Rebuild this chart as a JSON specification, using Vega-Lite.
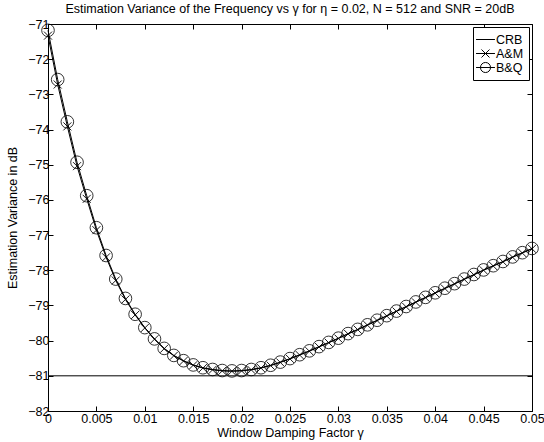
{
  "$schema": "https://vega.github.io/schema/vega-lite/v6.json",
  "autosize": "none",
  "width": 484,
  "height": 387,
  "padding": {"left": 48, "top": 24, "right": 12, "bottom": 31},
  "background": "white",
  "config": {
    "font": "Liberation Sans",
    "view": {"stroke": "black", "strokeWidth": 1},
    "axis": {
      "domainColor": "black", "tickColor": "black", "labelColor": "black", "titleColor": "black",
      "labelFont": "Liberation Sans", "titleFont": "Liberation Sans",
      "labelFontSize": 12.5, "titleFontSize": 12.5, "titleFontWeight": "normal",
      "tickSize": -5, "grid": false
    },
    "legend": {"labelFont": "Liberation Sans"}
  },
  "title": {"text": "Estimation Variance of the Frequency vs γ for η = 0.02, N = 512 and SNR = 20dB", "font": "Liberation Sans", "fontSize": 12.5, "fontWeight": "normal", "color": "black", "offset": 3},
  "datasets": {
    "curves": [
      {"series": "CRB", "x": 0, "v": -81},
      {"series": "CRB", "x": 0.05, "v": -81},
      {"series": "A&M", "x": 0.000, "v": -71.33},
      {"series": "A&M", "x": 0.001, "v": -72.72},
      {"series": "A&M", "x": 0.002, "v": -73.91},
      {"series": "A&M", "x": 0.003, "v": -75.04},
      {"series": "A&M", "x": 0.004, "v": -75.97},
      {"series": "A&M", "x": 0.005, "v": -76.86},
      {"series": "A&M", "x": 0.006, "v": -77.63},
      {"series": "A&M", "x": 0.007, "v": -78.29},
      {"series": "A&M", "x": 0.008, "v": -78.83},
      {"series": "A&M", "x": 0.009, "v": -79.27},
      {"series": "A&M", "x": 0.010, "v": -79.64},
      {"series": "A&M", "x": 0.011, "v": -79.96},
      {"series": "A&M", "x": 0.012, "v": -80.23},
      {"series": "A&M", "x": 0.013, "v": -80.43},
      {"series": "A&M", "x": 0.014, "v": -80.58},
      {"series": "A&M", "x": 0.015, "v": -80.7},
      {"series": "A&M", "x": 0.016, "v": -80.78},
      {"series": "A&M", "x": 0.017, "v": -80.83},
      {"series": "A&M", "x": 0.018, "v": -80.86},
      {"series": "A&M", "x": 0.019, "v": -80.87},
      {"series": "A&M", "x": 0.020, "v": -80.86},
      {"series": "A&M", "x": 0.021, "v": -80.83},
      {"series": "A&M", "x": 0.022, "v": -80.78},
      {"series": "A&M", "x": 0.023, "v": -80.71},
      {"series": "A&M", "x": 0.024, "v": -80.62},
      {"series": "A&M", "x": 0.025, "v": -80.52},
      {"series": "A&M", "x": 0.026, "v": -80.41},
      {"series": "A&M", "x": 0.027, "v": -80.3},
      {"series": "A&M", "x": 0.028, "v": -80.18},
      {"series": "A&M", "x": 0.029, "v": -80.06},
      {"series": "A&M", "x": 0.030, "v": -79.94},
      {"series": "A&M", "x": 0.031, "v": -79.81},
      {"series": "A&M", "x": 0.032, "v": -79.69},
      {"series": "A&M", "x": 0.033, "v": -79.56},
      {"series": "A&M", "x": 0.034, "v": -79.43},
      {"series": "A&M", "x": 0.035, "v": -79.3},
      {"series": "A&M", "x": 0.036, "v": -79.17},
      {"series": "A&M", "x": 0.037, "v": -79.04},
      {"series": "A&M", "x": 0.038, "v": -78.91},
      {"series": "A&M", "x": 0.039, "v": -78.78},
      {"series": "A&M", "x": 0.040, "v": -78.65},
      {"series": "A&M", "x": 0.041, "v": -78.52},
      {"series": "A&M", "x": 0.042, "v": -78.39},
      {"series": "A&M", "x": 0.043, "v": -78.26},
      {"series": "A&M", "x": 0.044, "v": -78.13},
      {"series": "A&M", "x": 0.045, "v": -78.0},
      {"series": "A&M", "x": 0.046, "v": -77.88},
      {"series": "A&M", "x": 0.047, "v": -77.76},
      {"series": "A&M", "x": 0.048, "v": -77.63},
      {"series": "A&M", "x": 0.049, "v": -77.51},
      {"series": "A&M", "x": 0.050, "v": -77.39},
      {"series": "B&Q", "x": 0.000, "v": -71.18},
      {"series": "B&Q", "x": 0.001, "v": -72.58},
      {"series": "B&Q", "x": 0.002, "v": -73.78},
      {"series": "B&Q", "x": 0.003, "v": -74.93},
      {"series": "B&Q", "x": 0.004, "v": -75.88},
      {"series": "B&Q", "x": 0.005, "v": -76.79},
      {"series": "B&Q", "x": 0.006, "v": -77.58},
      {"series": "B&Q", "x": 0.007, "v": -78.25},
      {"series": "B&Q", "x": 0.008, "v": -78.8},
      {"series": "B&Q", "x": 0.009, "v": -79.25},
      {"series": "B&Q", "x": 0.010, "v": -79.63},
      {"series": "B&Q", "x": 0.011, "v": -79.95},
      {"series": "B&Q", "x": 0.012, "v": -80.22},
      {"series": "B&Q", "x": 0.013, "v": -80.42},
      {"series": "B&Q", "x": 0.014, "v": -80.57},
      {"series": "B&Q", "x": 0.015, "v": -80.69},
      {"series": "B&Q", "x": 0.016, "v": -80.77},
      {"series": "B&Q", "x": 0.017, "v": -80.82},
      {"series": "B&Q", "x": 0.018, "v": -80.85},
      {"series": "B&Q", "x": 0.019, "v": -80.86},
      {"series": "B&Q", "x": 0.020, "v": -80.85},
      {"series": "B&Q", "x": 0.021, "v": -80.82},
      {"series": "B&Q", "x": 0.022, "v": -80.77},
      {"series": "B&Q", "x": 0.023, "v": -80.7},
      {"series": "B&Q", "x": 0.024, "v": -80.61},
      {"series": "B&Q", "x": 0.025, "v": -80.51},
      {"series": "B&Q", "x": 0.026, "v": -80.4},
      {"series": "B&Q", "x": 0.027, "v": -80.29},
      {"series": "B&Q", "x": 0.028, "v": -80.17},
      {"series": "B&Q", "x": 0.029, "v": -80.05},
      {"series": "B&Q", "x": 0.030, "v": -79.93},
      {"series": "B&Q", "x": 0.031, "v": -79.8},
      {"series": "B&Q", "x": 0.032, "v": -79.68},
      {"series": "B&Q", "x": 0.033, "v": -79.55},
      {"series": "B&Q", "x": 0.034, "v": -79.42},
      {"series": "B&Q", "x": 0.035, "v": -79.29},
      {"series": "B&Q", "x": 0.036, "v": -79.16},
      {"series": "B&Q", "x": 0.037, "v": -79.03},
      {"series": "B&Q", "x": 0.038, "v": -78.9},
      {"series": "B&Q", "x": 0.039, "v": -78.77},
      {"series": "B&Q", "x": 0.040, "v": -78.64},
      {"series": "B&Q", "x": 0.041, "v": -78.51},
      {"series": "B&Q", "x": 0.042, "v": -78.38},
      {"series": "B&Q", "x": 0.043, "v": -78.25},
      {"series": "B&Q", "x": 0.044, "v": -78.12},
      {"series": "B&Q", "x": 0.045, "v": -77.99},
      {"series": "B&Q", "x": 0.046, "v": -77.87},
      {"series": "B&Q", "x": 0.047, "v": -77.75},
      {"series": "B&Q", "x": 0.048, "v": -77.62},
      {"series": "B&Q", "x": 0.049, "v": -77.5},
      {"series": "B&Q", "x": 0.050, "v": -77.38}
    ]
  },
  "data": {"name": "curves"},
  "resolve": {"axis": {"x": "independent", "y": "independent"}},
  "layer": [
    {
      "mark": {"type": "line", "color": "black", "strokeWidth": 1},
      "encoding": {
        "x": {"field": "x", "type": "quantitative", "scale": {"domain": [0, 0.05], "nice": false, "zero": false},
              "axis": {"title": "Window Damping Factor γ", "values": [0,0.005,0.01,0.015,0.02,0.025,0.03,0.035,0.04,0.045,0.05], "format": "~g", "labelPadding": 6, "titleY": 15, "titlePadding": 0, "labelFlush": false}},
        "y": {"field": "v", "type": "quantitative", "scale": {"domain": [-82, -71], "nice": false, "zero": false},
              "axis": {"title": "Estimation Variance in dB", "values": [-82,-81,-80,-79,-78,-77,-76,-75,-74,-73,-72,-71], "format": "d", "labelPadding": 4, "titleX": -29, "labelFlush": false}},
        "detail": {"field": "series"}
      }
    },
    {
      "transform": [{"filter": "datum.series === 'A&M'"}],
      "mark": {"type": "point", "shape": "M-1,-1L1,1M-1,1L1,-1", "size": 64, "filled": false, "stroke": "black", "strokeWidth": 0.9, "opacity": 1},
      "encoding": {
        "x": {"field": "x", "type": "quantitative", "axis": null},
        "y": {"field": "v", "type": "quantitative", "axis": null}
      }
    },
    {
      "transform": [{"filter": "datum.series === 'B&Q'"}],
      "mark": {"type": "point", "shape": "circle", "size": 160, "filled": false, "stroke": "black", "strokeWidth": 0.8, "opacity": 1},
      "encoding": {
        "x": {"field": "x", "type": "quantitative", "axis": null},
        "y": {"field": "v", "type": "quantitative", "axis": null}
      }
    },
    {
      "transform": [{"filter": "datum.v > 1000"}],
      "mark": {"type": "point", "filled": false, "stroke": "black", "strokeWidth": 1, "opacity": 1},
      "encoding": {
        "x": {"field": "x", "type": "quantitative", "axis": {"orient": "top", "labels": false, "title": null, "domain": false, "values": [0,0.005,0.01,0.015,0.02,0.025,0.03,0.035,0.04,0.045,0.05]}},
        "y": {"field": "v", "type": "quantitative", "axis": {"orient": "right", "labels": false, "title": null, "domain": false, "values": [-82,-81,-80,-79,-78,-77,-76,-75,-74,-73,-72,-71]}},
        "shape": {
          "field": "series", "type": "nominal",
          "scale": {"domain": ["CRB", "A&M", "B&Q"], "range": ["M-1.35,0L1.35,0", "M-1.35,0L1.35,0M-0.57,-0.57L0.57,0.57M-0.57,0.57L0.57,-0.57", "M-1.35,0L1.35,0M-0.72,0A0.72,0.72,0,1,1,0.72,0A0.72,0.72,0,1,1,-0.72,0"]},
          "legend": {"title": null, "orient": "top-right", "offset": 3, "strokeColor": "black", "fillColor": "white", "padding": 5, "symbolSize": 196, "symbolStrokeColor": "black", "symbolFillColor": "transparent", "symbolStrokeWidth": 1, "labelFontSize": 12.5, "labelColor": "black", "labelOffset": 3, "rowPadding": 0, "cornerRadius": 0}
        }
      }
    }
  ]
}
